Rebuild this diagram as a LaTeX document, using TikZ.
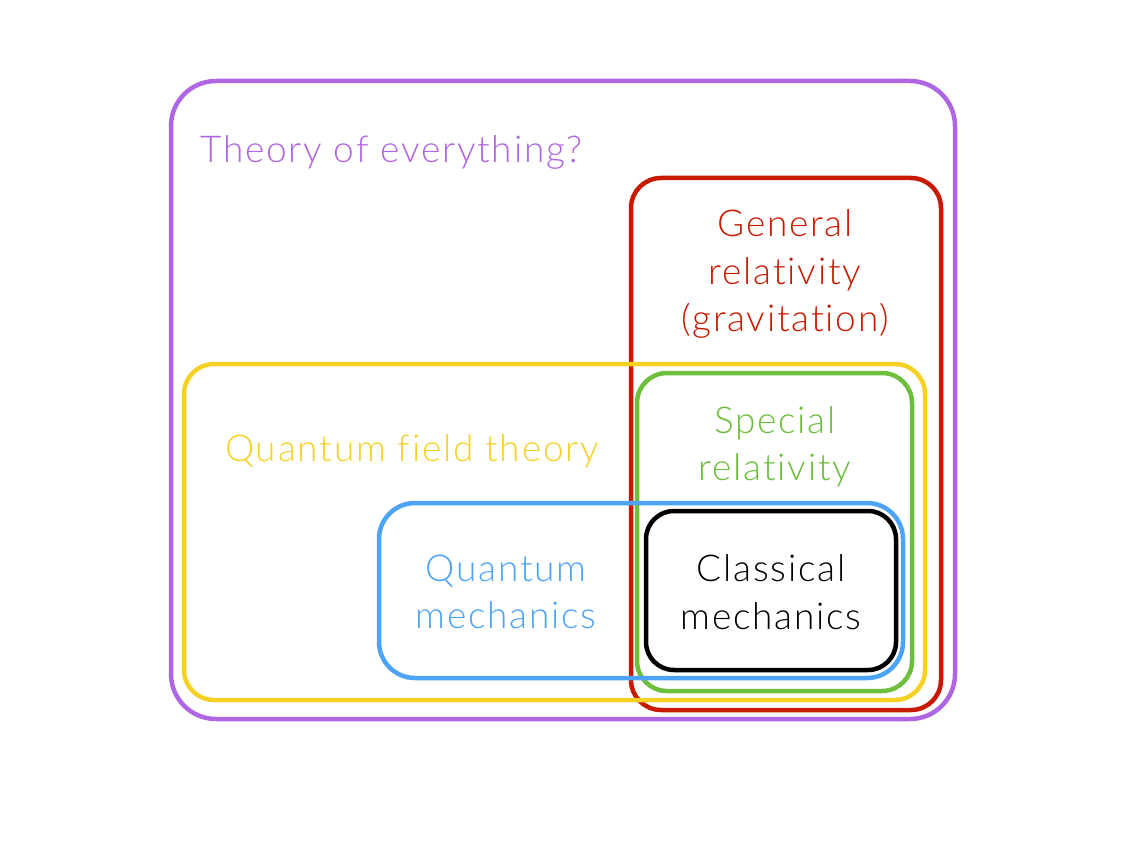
\documentclass[tikz,border=0pt]{standalone}
\usepackage{fontspec}
\setmainfont{Lato Light}[Ligatures={NoCommon,NoRequired,NoContextual}, LetterSpace=4.8]
\definecolor{cpurple}{HTML}{B066E2}
\definecolor{cred}{HTML}{C81A00}
\definecolor{cyellow}{HTML}{F6D125}
\definecolor{cgreen}{HTML}{6CBE3C}
\definecolor{cblue}{HTML}{4DA3F6}
\begin{document}
\begin{tikzpicture}[x=1pt,y=-1pt,
  frame/.style={line width=4.5pt, rounded corners=#1},
  lbl/.style={font=\fontsize{37}{47.5}\selectfont, align=center, inner sep=0pt}]
\useasboundingbox (0,0) rectangle (1126,845);
\draw[frame=45pt, cpurple] (171,81) rectangle (955,719);
\draw[frame=30pt, cred] (631,178) rectangle (941,710);
\draw[frame=30pt, cyellow] (184,364) rectangle (925,700);
\draw[frame=30pt, cgreen] (637,373) rectangle (912,691);
\draw[frame=36pt, cblue] (379,503) rectangle (903,678);
\draw[frame=28pt, black] (646,511) rectangle (896,670);
\node[lbl, text=cpurple, anchor=west] (toe) at (200,152) {Theory of everything?};
\node[lbl, text=cred] (gr) at (785,274) {General\\relativity\\(gravitation)};
\node[lbl, text=cyellow, anchor=west] (qft) at (225,451) {Quantum field theory};
\node[lbl, text=cgreen] (sr) at (775,447) {Special\\relativity};
\node[lbl, text=cblue] (qm) at (506,592) {Quantum\\mechanics};
\node[lbl, text=black] (cm) at (771,592) {Classical\\mechanics};
\end{tikzpicture}
\end{document}
